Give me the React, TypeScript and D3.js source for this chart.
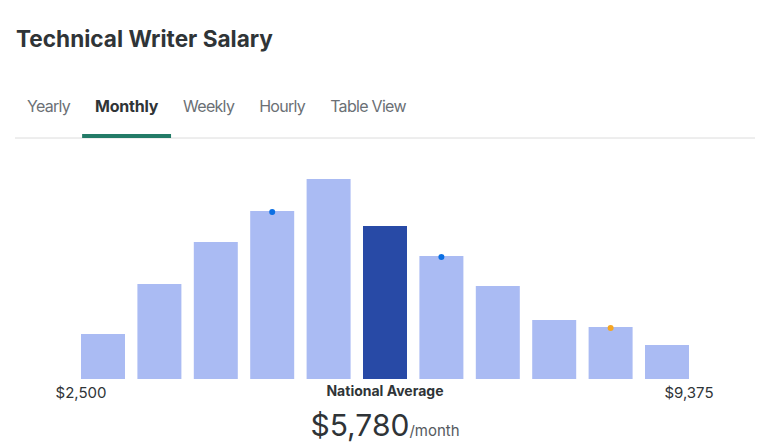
import React from "react";
import * as d3 from "d3";

const title = "Technical Writer Salary";
const tabs = ["Yearly", "Monthly", "Weekly", "Hourly", "Table View"];
const activeTab = "Monthly";
const bins = ["b1", "b2", "b3", "b4", "b5", "b6", "b7", "b8", "b9", "b10", "b11"];
const counts = [45, 95, 137, 168, 200, 153, 123, 93, 59, 52, 34];
const highlightBin = "b6";
const markerBins = ["b4", "b7", "b10"];
const markerColors = ["#0b6fe3", "#0b6fe3", "#f5a623"];
const minLabel = "$2,500";
const maxLabel = "$9,375";
const avgLabel = "National Average";
const avgValue = "$5,780";
const avgUnit = "/month";

const W = 759;
const H = 445;
const FONT = "Inter, 'Noto Sans', sans-serif";

function measure(text: string, font: string) {
  const c = document.createElement("canvas").getContext("2d")!;
  c.font = font;
  return c.measureText(text).width;
}

export default function App() {
  const x = d3.scaleBand<string>().domain(bins).range([81, 689]).paddingInner(0.22).paddingOuter(0);
  const y = d3.scaleLinear().domain([0, 200]).range([379, 179]);

  // tab layout
  const tabGap = 25;
  let cursor = 27;
  const tabLayout = tabs.map((t) => {
    const active = t === activeTab;
    const f = active ? `700 16px ${FONT}` : `400 16px ${FONT}`;
    const ls = active ? -0.25 : -0.7;
    const w = measure(t, f) + ls * t.length;
    const item = { t, x: cursor, w, ls };
    cursor += w + tabGap;
    return item;
  });
  const act = tabLayout.find((d) => d.t === activeTab)!;

  const valueW = measure(avgValue, `400 30px ${FONT}`);
  const unitW = measure(avgUnit, `400 15px ${FONT}`);
  const avgCx = x(highlightBin)! + x.bandwidth() / 2;
  const valStart = avgCx - (valueW + unitW) / 2;

  return (
    <div style={{ position: "absolute", left: 0, top: 0 }}>
      <svg width={W} height={H} style={{ display: "block", fontFamily: FONT }}>
        <rect width={W} height={H} fill="#fff" />
        <text x={16} y={47} fontSize={22.6} fontWeight={700} fill="#2f3437">
          {title}
        </text>
        {tabLayout.map((d) => (
          <text
            key={d.t}
            x={d.x}
            y={112}
            fontSize={16}
            letterSpacing={d.ls}
            fontWeight={d.t === activeTab ? 700 : 400}
            fill={d.t === activeTab ? "#2f3437" : "#6b7075"}
          >
            {d.t}
          </text>
        ))}
        <line x1={15} x2={755} y1={138} y2={138} stroke="#dcdcdc" strokeWidth={1} />
        <rect x={act.x - 13} y={134} width={act.w + 26} height={4} fill="#237b67" />

        {bins.map((b, i) => (
          <rect
            key={b}
            x={x(b)}
            y={y(counts[i])}
            width={x.bandwidth()}
            height={y(0) - y(counts[i])}
            fill={b === highlightBin ? "#284aa6" : "#aabbf3"}
          />
        ))}
        {markerBins.map((b, i) => (
          <circle
            key={b}
            cx={x(b)! + x.bandwidth() / 2}
            cy={y(counts[bins.indexOf(b)]) + 1}
            r={3}
            fill={markerColors[i]}
          />
        ))}

        <text x={x(bins[0])} y={398} fontSize={15} textAnchor="middle" fill="#2f3437">
          {minLabel}
        </text>
        <text x={x(bins[bins.length - 1])! + x.bandwidth()} y={398} fontSize={15} textAnchor="middle" fill="#2f3437">
          {maxLabel}
        </text>
        <text x={avgCx} y={396} fontSize={14} fontWeight={700} textAnchor="middle" fill="#2f3437">
          {avgLabel}
        </text>
        <text x={valStart} y={436} fill="#2f3437">
          <tspan fontSize={30}>{avgValue}</tspan>
          <tspan fontSize={15} fill="#555a5e">{avgUnit}</tspan>
        </text>
      </svg>
    </div>
  );
}
